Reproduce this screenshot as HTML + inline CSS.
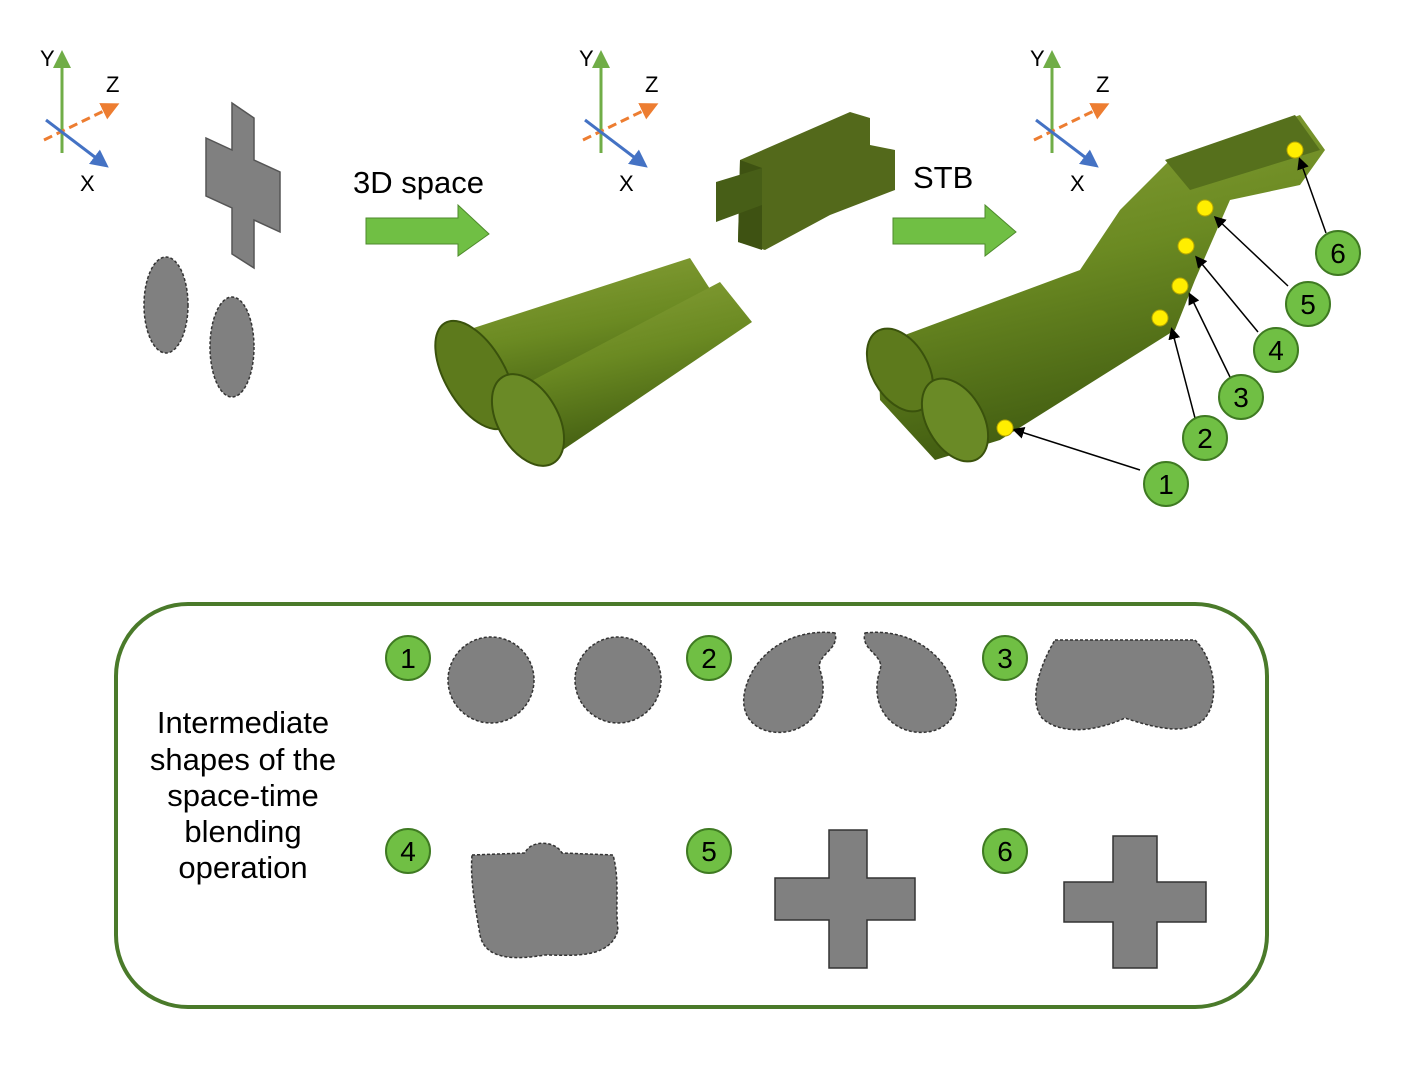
<!DOCTYPE html>
<html><head><meta charset="utf-8"><style>
html,body{margin:0;padding:0;background:#fff}
svg{display:block;font-family:"Liberation Sans",Arial,sans-serif}
</style></head><body>
<svg width="1415" height="1092" viewBox="0 0 1415 1092">
<defs>
<marker id="ah" markerWidth="8" markerHeight="8" refX="6" refY="4" orient="auto"><path d="M0,0 L8,4 L0,8z" fill="#000"/></marker>
<marker id="ab" markerWidth="6" markerHeight="6" refX="4" refY="3" orient="auto"><path d="M0,0 L6,3 L0,6z" fill="#4472c4"/></marker>
<marker id="ag" markerWidth="6" markerHeight="6" refX="4" refY="3" orient="auto"><path d="M0,0 L6,3 L0,6z" fill="#70ad47"/></marker>
<marker id="ao" markerWidth="6" markerHeight="6" refX="4" refY="3" orient="auto"><path d="M0,0 L6,3 L0,6z" fill="#ed7d31"/></marker>
<linearGradient id="cyl" x1="0" y1="0" x2="0.3" y2="1"><stop offset="0" stop-color="#8aa23a"/><stop offset="0.5" stop-color="#6b8a22"/><stop offset="1" stop-color="#3f5a10"/></linearGradient>
</defs>

<g transform="translate(62,128)">
<line x1="0" y1="25" x2="0" y2="-72" stroke="#70ad47" stroke-width="3" marker-end="url(#ag)"/>
<line x1="-18" y1="12" x2="52" y2="-22" stroke="#ed7d31" stroke-width="3" stroke-dasharray="9,5" marker-end="url(#ao)"/>
<line x1="-16" y1="-8" x2="42" y2="36" stroke="#4472c4" stroke-width="3" marker-end="url(#ab)"/>
<text x="-22" y="-62" font-size="22">Y</text><text x="44" y="-36" font-size="22">Z</text><text x="18" y="63" font-size="22">X</text>
</g>
<g transform="translate(601,128)">
<line x1="0" y1="25" x2="0" y2="-72" stroke="#70ad47" stroke-width="3" marker-end="url(#ag)"/>
<line x1="-18" y1="12" x2="52" y2="-22" stroke="#ed7d31" stroke-width="3" stroke-dasharray="9,5" marker-end="url(#ao)"/>
<line x1="-16" y1="-8" x2="42" y2="36" stroke="#4472c4" stroke-width="3" marker-end="url(#ab)"/>
<text x="-22" y="-62" font-size="22">Y</text><text x="44" y="-36" font-size="22">Z</text><text x="18" y="63" font-size="22">X</text>
</g>
<g transform="translate(1052,128)">
<line x1="0" y1="25" x2="0" y2="-72" stroke="#70ad47" stroke-width="3" marker-end="url(#ag)"/>
<line x1="-18" y1="12" x2="52" y2="-22" stroke="#ed7d31" stroke-width="3" stroke-dasharray="9,5" marker-end="url(#ao)"/>
<line x1="-16" y1="-8" x2="42" y2="36" stroke="#4472c4" stroke-width="3" marker-end="url(#ab)"/>
<text x="-22" y="-62" font-size="22">Y</text><text x="44" y="-36" font-size="22">Z</text><text x="18" y="63" font-size="22">X</text>
</g>

<path d="M232,103 L254,118 L254,160 L280,172 L280,232 L254,220 L254,268 L232,254 L232,208 L206,196 L206,138 L232,150 Z" fill="#808080" stroke="#555" stroke-width="1.5"/>
<ellipse cx="166" cy="305" rx="22" ry="48" fill="#808080" stroke="#333" stroke-width="1.5" stroke-dasharray="3,2"/>
<ellipse cx="232" cy="347" rx="22" ry="50" fill="#808080" stroke="#333" stroke-width="1.5" stroke-dasharray="3,2"/>

<text x="353" y="193" font-size="31">3D space</text>
<path d="M366,218 L458,218 L458,205 L489,234 L458,256 L458,244 L366,244 Z" fill="#70bf44" stroke="#4e8a2c" stroke-width="1"/>
<text x="913" y="188" font-size="31">STB</text>
<path d="M893,218 L985,218 L985,205 L1016,232 L985,256 L985,244 L893,244 Z" fill="#70bf44" stroke="#4e8a2c" stroke-width="1"/>

<g>
<path d="M452,335 L690,258 L730,320 L500,430 Z" fill="url(#cyl)"/>
<ellipse cx="475" cy="375" rx="30" ry="60" transform="rotate(-30 475 375)" fill="#5d7a1c" stroke="#3a520c" stroke-width="2"/>
<path d="M505,395 L720,282 L752,322 L545,462 Z" fill="url(#cyl)"/>
<ellipse cx="528" cy="420" rx="30" ry="50" transform="rotate(-30 528 420)" fill="#6a8a26" stroke="#3a520c" stroke-width="2"/>
</g>
<g>
<path d="M740,160 L850,112 L870,118 L870,145 L895,150 L895,190 L830,215 L765,250 L738,242 Z" fill="#53691b"/>
<path d="M740,160 L762,168 L762,250 L738,242 Z" fill="#3e5212"/>
<path d="M716,182 L762,168 L762,205 L716,222 Z" fill="#475e17"/>
</g>

<g>
<path d="M878,345 L1080,270 L1120,210 L1170,160 L1300,115 L1325,150 L1300,185 L1230,200 L1195,280 L1175,330 L1000,440 L935,460 L880,400 Z" fill="url(#cyl)"/>
<path d="M1165,160 L1295,115 L1320,150 L1190,190 Z" fill="#56701c"/>
<ellipse cx="900" cy="370" rx="28" ry="45" transform="rotate(-30 900 370)" fill="#5d7a1c" stroke="#3a520c" stroke-width="2"/>
<ellipse cx="955" cy="420" rx="28" ry="45" transform="rotate(-30 955 420)" fill="#6a8a26" stroke="#3a520c" stroke-width="2"/>
</g>

<g stroke="#000" stroke-width="1.5" fill="none">
<line x1="1140" y1="470" x2="1015" y2="430" marker-end="url(#ah)"/>
<line x1="1195" y1="418" x2="1172" y2="330" marker-end="url(#ah)"/>
<line x1="1230" y1="377" x2="1190" y2="295" marker-end="url(#ah)"/>
<line x1="1258" y1="332" x2="1197" y2="258" marker-end="url(#ah)"/>
<line x1="1288" y1="286" x2="1216" y2="218" marker-end="url(#ah)"/>
<line x1="1326" y1="233" x2="1300" y2="160" marker-end="url(#ah)"/>
</g>
<g fill="#ffee00" stroke="#b8a800">
<circle cx="1005" cy="428" r="8"/><circle cx="1160" cy="318" r="8"/><circle cx="1180" cy="286" r="8"/>
<circle cx="1186" cy="246" r="8"/><circle cx="1205" cy="208" r="8"/><circle cx="1295" cy="150" r="8"/>
</g>
<g font-size="28" text-anchor="middle">
<g fill="#70bf44" stroke="#3f7a22" stroke-width="2">
<circle cx="1166" cy="484" r="22"/><circle cx="1205" cy="438" r="22"/><circle cx="1241" cy="397" r="22"/>
<circle cx="1276" cy="350" r="22"/><circle cx="1308" cy="304" r="22"/><circle cx="1338" cy="253" r="22"/>
</g>
<text x="1166" y="494">1</text><text x="1205" y="448">2</text><text x="1241" y="407">3</text>
<text x="1276" y="360">4</text><text x="1308" y="314">5</text><text x="1338" y="263">6</text>
</g>

<rect x="116" y="604" width="1151" height="403" rx="72" fill="none" stroke="#4a7a2a" stroke-width="4"/>
<text font-size="31" text-anchor="middle">
<tspan x="243" y="733">Intermediate</tspan><tspan x="243" y="770">shapes of the</tspan><tspan x="243" y="806">space-time</tspan><tspan x="243" y="842">blending</tspan><tspan x="243" y="878">operation</tspan>
</text>
<g font-size="28" text-anchor="middle">
<g fill="#70bf44" stroke="#3f7a22" stroke-width="2">
<circle cx="408" cy="658" r="22"/><circle cx="709" cy="658" r="22"/><circle cx="1005" cy="658" r="22"/>
<circle cx="408" cy="851" r="22"/><circle cx="709" cy="851" r="22"/><circle cx="1005" cy="851" r="22"/>
</g>
<text x="408" y="668">1</text><text x="709" y="668">2</text><text x="1005" y="668">3</text>
<text x="408" y="861">4</text><text x="709" y="861">5</text><text x="1005" y="861">6</text>
</g>
<g fill="#808080" stroke="#333" stroke-width="1.5" stroke-dasharray="3,2">
<circle cx="491" cy="680" r="43"/>
<circle cx="618" cy="680" r="43"/>
<path d="M835,633 C795,628 755,650 745,690 C738,720 760,735 785,732 C815,728 830,700 820,670 C815,655 840,650 835,633 Z"/>
<path d="M865,633 C905,628 945,650 955,690 C962,720 940,735 915,732 C885,728 870,700 880,670 C885,655 860,650 865,633 Z"/>
<path d="M1055,640 L1195,640 C1215,660 1220,700 1205,718 C1190,735 1160,730 1125,718 C1095,732 1060,735 1042,718 C1028,700 1040,665 1055,640 Z"/>
<path d="M472,855 L525,853 C530,840 555,840 562,853 L613,855 C620,880 615,905 618,930 C610,960 570,955 545,955 C515,960 485,960 480,935 C475,905 470,880 472,855 Z"/>
<path d="M829,830 L867,830 L867,878 L915,878 L915,920 L867,920 L867,968 L829,968 L829,920 L775,920 L775,878 L829,878 Z" stroke-dasharray="none"/>
<path d="M1113,836 L1157,836 L1157,882 L1206,882 L1206,922 L1157,922 L1157,968 L1113,968 L1113,922 L1064,922 L1064,882 L1113,882 Z" stroke-dasharray="none"/>
</g>
</svg>
</body></html>
